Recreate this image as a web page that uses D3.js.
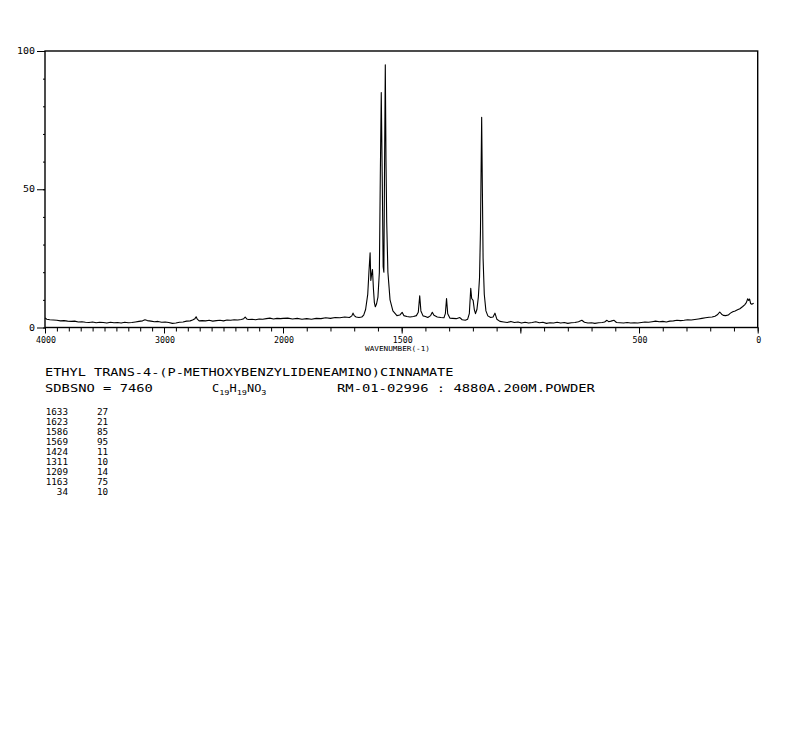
<!DOCTYPE html>
<html>
<head>
<meta charset="utf-8">
<script src="https://cdn.jsdelivr.net/npm/d3@7"></script>
<style>
html,body{margin:0;padding:0;background:#fff;}
svg{display:block;}
</style>
</head>
<body>
<svg id="chart" width="794" height="737"></svg>
<script>
// ---- data ----
const spectrumWn = [4000,3985,3960,3930,3900,3870,3840,3810,3780,3750,3720,3690,3660,3630,3600,3570,3540,3510,3480,3450,3420,3390,3360,3330,3300,3270,3240,3210,3180,3160,3140,3110,3080,3050,3020,2990,2960,2930,2900,2870,2840,2810,2780,2760,2740,2730,2720,2705,2680,2650,2620,2590,2560,2530,2500,2470,2440,2410,2380,2350,2330,2318,2305,2290,2260,2230,2200,2170,2140,2110,2080,2050,2020,2000,
1980,1960,1940,1920,1900,1880,1860,1840,1820,1800,1780,1760,1740,1720,1710,1705,1700,1692,1680,1668,1660,1652,1643,1638,1633,1630,1627,1623,1619,1615,1611,1606,1600,1594,1590,1586,1582,1578,1575,1572,1569,1566,1563,1558,1549,1537,1520,1508,1498,1491,1478,1465,1450,1438,1430,1424,1419,1410,1400,1390,1378,1371,1364,1350,1335,1322,1316,1311,1306,1297,1285,1270,1255,1245,1232,1222,1215,1209,1205,1199,1194,1189,1183,1177,1172,1168,1166,1163,1160,1157,1152,1145,1137,1125,1115,1107,1099,1086,1070,1055,1040,1025,1010,995,980,965,950,935,920,905,890,875,860,845,830,815,800,785,770,755,741,730,715,700,686,670,655,645,635,628,618,605,595,580,565,550,535,520,505,490,475,460,445,430,415,400,385,370,355,340,325,310,295,280,265,250,235,220,205,192,180,170,160,152,145,135,124,115,105,95,85,75,63,55,48,42,38,34,30,25,17];
const spectrumInt = [3.5,3.0,2.8,2.7,2.6,2.4,2.5,2.3,2.2,2.3,2.0,2.1,1.9,1.8,2.0,1.7,1.9,1.8,1.6,1.9,1.7,1.8,1.6,1.9,1.7,1.8,2.0,2.2,2.4,2.8,2.5,2.3,2.1,2.2,1.9,2.0,1.8,1.5,1.6,1.9,2.0,2.3,2.4,2.7,3.2,3.9,3.0,2.4,2.5,2.4,2.6,2.3,2.5,2.6,2.4,2.7,2.6,2.8,2.7,2.9,3.2,3.8,3.1,2.9,3.0,2.8,3.1,3.0,3.2,3.4,3.1,3.3,3.2,3.3,
3.4,3.1,3.3,3.0,3.2,3.0,3.3,3.2,3.5,3.3,3.6,3.5,3.8,3.6,4.2,5.2,4.3,3.8,3.6,3.8,4.5,6.5,12,20,27,17,19,21,14,9,7.5,8.5,11,20,55,85,55,22,20,60,95,60,38,20,10,6,4.3,4.5,5.5,4.3,4.0,3.8,4.0,4.3,5.5,11.5,6,4.2,4.0,3.6,4.3,5.5,4.4,3.8,3.6,3.5,5,10.5,5,3.4,3.3,3.2,3.6,2.8,2.6,3.0,5,14.2,10.5,9.8,6.5,5,6.5,11,18,35,52,76,50,25,12,6,4.2,3.6,3.8,5.2,3,2.2,2.0,1.8,2.2,1.8,2.0,1.6,1.9,1.6,1.8,2.1,1.7,1.9,1.5,1.7,1.6,1.9,1.6,1.8,1.5,1.7,1.8,2.1,2.6,1.9,1.6,1.7,1.5,1.7,1.8,2.0,2.6,2.1,2.3,2.6,1.8,1.7,1.6,1.8,1.6,1.7,1.6,1.8,2.0,1.9,2.1,2.3,2.1,2.2,2.0,2.3,2.4,2.6,2.5,2.6,2.8,2.7,2.9,3.1,3.3,3.5,3.7,3.8,4.1,4.6,5.6,4.8,4.4,4.3,4.5,5.2,5.7,6.0,6.4,6.8,7.6,8.2,9.0,10.4,9.8,10.3,8.7,8.4,8.8];

const peakWn  = [1633,1623,1586,1569,1424,1311,1209,1163,34];
const peakInt = [27,21,85,95,11,10,14,75,10];

const xMinorTicks = d3.range(4000, -1, -100);
const xMajorTicks = [4000,3000,2000,1500,1000,500,0];
const xTickLabels = [4000,3000,2000,1500,500,0];
const yMinorTicks = d3.range(0, 101, 10);
const yTickLabels = [0,50,100];

const titleText = "ETHYL TRANS-4-(P-METHOXYBENZYLIDENEAMINO)CINNAMATE";
const sdbsText = "SDBSNO = 7460";
const condText = "RM-01-02996 : 4880A.200M.POWDER";
const xAxisTitle = "WAVENUMBER(-1)";

// ---- layout ----
const L = 45, R = 757.7, T = 51, B = 327.5;
const svg = d3.select("#chart");
const FONT = "DejaVu Sans Mono";

const x = d3.scaleLinear().domain([4000, 2000, 0]).range([L, 283, R]);
const y = d3.scaleLinear().domain([0, 100]).range([B, T]);

// stretched monospace text helper
function stext(g, px, py, str, fs, cw, anchor) {
  const sx = cw / (0.602 * fs);
  return g.append("text")
    .attr("transform", `translate(${px},${py}) scale(${sx},1)`)
    .attr("font-family", FONT)
    .attr("font-size", fs)
    .attr("text-anchor", anchor || "start")
    .attr("fill", "#000")
    .text(str);
}

// frame
svg.append("rect").attr("x", L).attr("y", T).attr("width", R - L).attr("height", B - T)
  .attr("fill", "none").attr("stroke", "#000").attr("stroke-width", 1.4);

// x axis ticks
const xMinorAxis = d3.axisBottom(x).tickValues(xMinorTicks).tickSize(4).tickSizeOuter(0).tickFormat("");
const xMajorAxis = d3.axisBottom(x).tickValues(xMajorTicks).tickSize(6).tickSizeOuter(0).tickFormat("");
[xMinorAxis, xMajorAxis].forEach(ax => {
  const g = svg.append("g").attr("transform", `translate(0,${B})`).call(ax);
  g.select(".domain").remove();
  g.selectAll("line").attr("stroke", "#000").attr("stroke-width", 1);
});

// y axis ticks
const yMinorAxis = d3.axisLeft(y).tickValues(yMinorTicks).tickSize(2).tickSizeOuter(0).tickFormat("");
const yMajorAxis = d3.axisLeft(y).tickValues(yTickLabels).tickSize(8).tickSizeOuter(0).tickFormat("");
[yMinorAxis, yMajorAxis].forEach(ax => {
  const g = svg.append("g").attr("transform", `translate(${L},0)`).call(ax);
  g.select(".domain").remove();
  g.selectAll("line").attr("stroke", "#000").attr("stroke-width", 1);
});

// tick labels
const tl = svg.append("g");
xTickLabels.forEach(v => stext(tl, x(v) + 1, B + 15.5, String(v), 9.5, 5, "middle"));
yTickLabels.forEach(v => stext(tl, 35, y(v) + 3, String(v), 8.5, 6, "end"));
stext(tl, 365, 351, xAxisTitle, 6.8, 4.65, "start");

// spectrum
const pts = spectrumWn.map((w, i) => [w, spectrumInt[i]]);
const line = d3.line().x(d => x(d[0])).y(d => y(d[1]));
svg.append("path").datum(pts).attr("d", line)
  .attr("fill", "none").attr("stroke", "#000").attr("stroke-width", 1.1).attr("stroke-linejoin", "round");

// text block
const tb = svg.append("g");
stext(tb, 45, 376, titleText, 10.5, 8.18, "start");
stext(tb, 45, 392, sdbsText, 10.5, 8.3, "start");
stext(tb, 337, 392, condText, 10.5, 8.33, "start");

// formula C19H19NO3
const fs = 10.5, fsx = 7.2 / (0.602 * fs);
const ft = tb.append("text")
  .attr("transform", `translate(212,392) scale(${fsx},1)`)
  .attr("font-family", FONT).attr("font-size", fs).attr("fill", "#000");
[["C",0],["19",1],["H",0],["19",1],["NO",0],["3",1]].forEach(([s, sub], i, arr) => {
  const prevSub = i > 0 ? arr[i-1][1] : 0;
  const dy = sub === prevSub ? 0 : (sub ? 3 : -3);
  ft.append("tspan").attr("dy", dy).attr("font-size", sub ? 7.5 : fs).text(s);
});

// peak table
const pt = svg.append("g");
peakWn.forEach((w, i) => {
  stext(pt, 68, 415 + i * 10, String(w), 8, 5.6, "end");
  stext(pt, 97, 415 + i * 10, String(peakInt[i]), 8, 5.6, "start");
});
</script>
</body>
</html>
